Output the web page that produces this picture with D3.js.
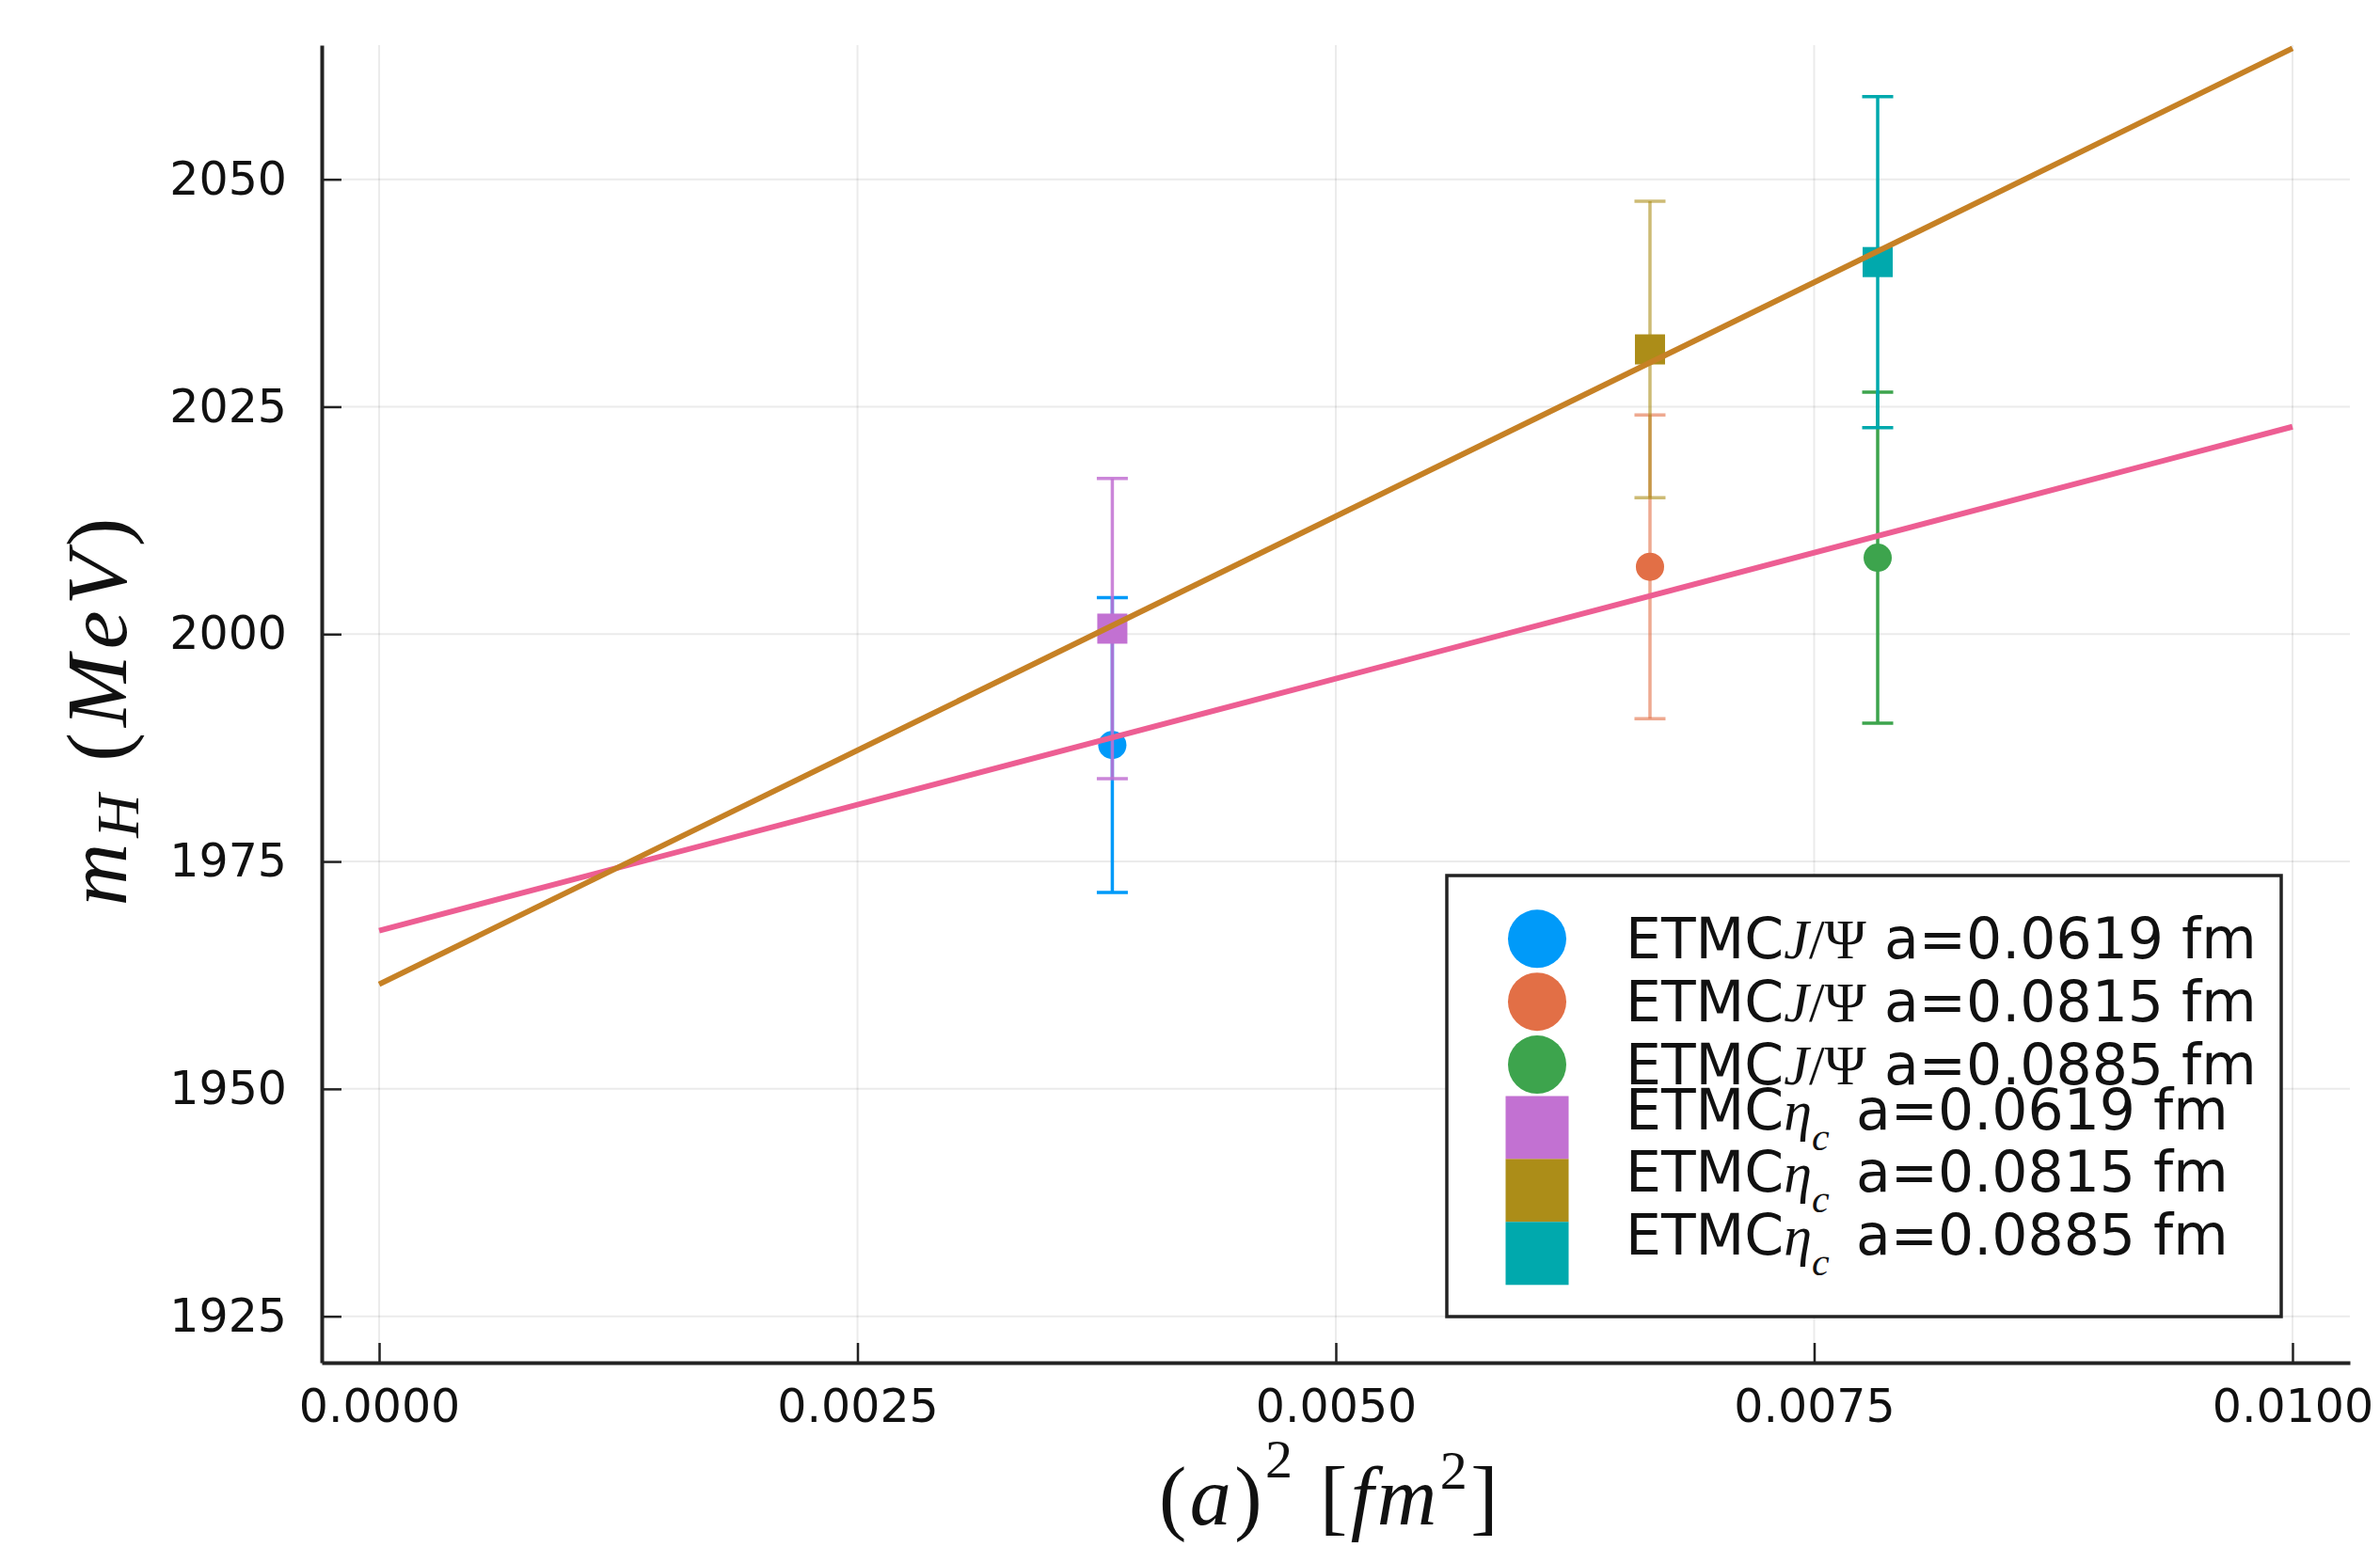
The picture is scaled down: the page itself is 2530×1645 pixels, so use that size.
<!DOCTYPE html>
<html><head><meta charset="utf-8">
<script src="https://cdn.jsdelivr.net/npm/d3@7"></script>
<style>body{margin:0;background:#fff}</style>
</head><body>
<svg id="chart" width="2530" height="1645" xmlns="http://www.w3.org/2000/svg"></svg>
<script>
// ---- data ----
const latticeSpacings = ["0.0619", "0.0815", "0.0885"];
const aSquared = [0.003832, 0.006642, 0.007832];
const jpsiMass = [1987.8, 2007.4, 2008.4];
const jpsiErr = [16.2, 16.7, 18.2];
const etacMass = [2000.6, 2031.3, 2040.9];
const etacErr = [16.5, 16.3, 18.2];
const fitX = [0, 0.01];
const fitJpsi = [1967.4, 2022.8];
const fitEtac = [1961.5, 2064.4];
const xTicks = [0, 0.0025, 0.005, 0.0075, 0.01];
const xTickLabels = ["0.0000", "0.0025", "0.0050", "0.0075", "0.0100"];
const yTicks = [1925, 1950, 1975, 2000, 2025, 2050];
const yTickLabels = ["1925", "1950", "1975", "2000", "2025", "2050"];
const jpsiColors = ["#009af9", "#e26f46", "#3da44d"];
const etacColors = ["#c271d2", "#ac8d18", "#00a9ad"];
const fitColors = ["#ed5e93", "#c68125"];
const errOpacity = [1, 0.6, 1, 0.85, 0.6, 1];

// ---- layout ----
const svg = d3.select("#chart");
svg.append("rect").attr("width", 2530).attr("height", 1645).attr("fill", "#fff");
const L = 342, R = 2498, T = 48, B = 1449;
const x = d3.scaleLinear().domain([-0.0003, 0.0103]).range([L, R]);
const y = d3.scaleLinear().domain([1919.9, 2064.75]).range([B, T]);
const SANS = "'DejaVu Sans', sans-serif";
const SERIF = "'Liberation Serif', 'DejaVu Serif', serif";

// grid
const grid = svg.append("g");
grid.selectAll(".gx").data(xTicks).enter().append("line")
  .attr("x1", d => x(d)).attr("x2", d => x(d)).attr("y1", T).attr("y2", B)
  .attr("stroke", "#000").attr("stroke-opacity", 0.08).attr("stroke-width", 2);
grid.selectAll(".gy").data(yTicks).enter().append("line")
  .attr("y1", d => y(d)).attr("y2", d => y(d)).attr("x1", L).attr("x2", R)
  .attr("stroke", "#000").attr("stroke-opacity", 0.08).attr("stroke-width", 2);

// axes
const xAxis = d3.axisBottom(x).tickValues(xTicks).tickFormat((d, i) => xTickLabels[i])
  .tickSizeInner(-21).tickSizeOuter(0).tickPadding(28);
const yAxis = d3.axisLeft(y).tickValues(yTicks).tickFormat((d, i) => yTickLabels[i])
  .tickSizeInner(-21).tickSizeOuter(0).tickPadding(37);
const gx = svg.append("g").attr("transform", `translate(0,${B})`).call(xAxis);
const gy = svg.append("g").attr("transform", `translate(${L},0)`).call(yAxis);
[gx, gy].forEach(g => {
  g.select(".domain").attr("stroke", "#222").attr("stroke-width", 4);
  g.selectAll(".tick line").attr("stroke", "#222").attr("stroke-width", 2.5);
  g.selectAll(".tick text").attr("fill", "#111").style("font-family", SANS).style("font-size", "49px");
});

// series (error bars + markers)
const series = [];
aSquared.forEach((a, i) => series.push({ x: a, m: jpsiMass[i], e: jpsiErr[i], c: jpsiColors[i], shape: "circle" }));
aSquared.forEach((a, i) => series.push({ x: a, m: etacMass[i], e: etacErr[i], c: etacColors[i], shape: "square" }));
const capW = 16.5;
series.forEach((s, k) => {
  const g = svg.append("g");
  const eg = g.append("g").attr("stroke", s.c).attr("stroke-width", 3.5).attr("stroke-opacity", errOpacity[k]);
  eg.append("line").attr("x1", x(s.x)).attr("x2", x(s.x)).attr("y1", y(s.m - s.e)).attr("y2", y(s.m + s.e));
  [s.m - s.e, s.m + s.e].forEach(v => eg.append("line")
    .attr("x1", x(s.x) - capW).attr("x2", x(s.x) + capW).attr("y1", y(v)).attr("y2", y(v)));
  if (s.shape === "circle") {
    g.append("circle").attr("cx", x(s.x)).attr("cy", y(s.m)).attr("r", 15).attr("fill", s.c);
  } else {
    g.append("rect").attr("x", x(s.x) - 16).attr("y", y(s.m) - 16).attr("width", 32).attr("height", 32).attr("fill", s.c);
  }
});

// fit lines
const line = d3.line().x(d => x(d[0])).y(d => y(d[1]));
[fitJpsi, fitEtac].forEach((f, i) => {
  svg.append("path").datum(fitX.map((fx, j) => [fx, f[j]])).attr("d", line)
    .attr("fill", "none").attr("stroke", fitColors[i]).attr("stroke-width", 6);
});

// axis labels
const xl = svg.append("text").attr("x", 1414).attr("y", 1621).attr("text-anchor", "middle")
  .style("font-family", SERIF).style("font-size", "88px").style("letter-spacing", "3.5px").attr("fill", "#111");
xl.append("tspan").text("(");
xl.append("tspan").style("font-style", "italic").text("a");
xl.append("tspan").text(")");
xl.append("tspan").style("font-size", "58px").attr("dy", -50).text("2");
xl.append("tspan").attr("dy", 50).text(" [");
xl.append("tspan").style("font-style", "italic").text("fm");
xl.append("tspan").style("font-size", "58px").attr("dy", -38).text("2");
xl.append("tspan").attr("dy", 38).text("]");

const yl = svg.append("text").attr("transform", "translate(134,754) rotate(-90)").attr("text-anchor", "middle")
  .style("font-family", SERIF).style("font-size", "92px").style("letter-spacing", "6px").attr("fill", "#111");
yl.append("tspan").style("font-style", "italic").text("m");
yl.append("tspan").style("font-style", "italic").style("font-size", "64px").attr("dy", 13).text("H");
yl.append("tspan").attr("dy", -13).text(" (");
yl.append("tspan").style("font-style", "italic").text("MeV");
yl.append("tspan").text(")");

// legend
const lg = svg.append("g");
lg.append("rect").attr("x", 1538).attr("y", 931).attr("width", 887).attr("height", 469)
  .attr("fill", "#fff").attr("stroke", "#222").attr("stroke-width", 3.5);
const rowH = 66.9, row0 = 998.3, symX = 1634, txtX = 1728;
latticeSpacings.forEach((a, i) => {
  const cy = row0 + i * rowH;
  lg.append("circle").attr("cx", symX).attr("cy", cy).attr("r", 31).attr("fill", jpsiColors[i]);
  const t = lg.append("text").attr("x", txtX).attr("y", cy + 21).attr("fill", "#111").style("font-size", "60px");
  t.append("tspan").style("font-family", SANS).text("ETMC");
  t.append("tspan").style("font-family", SERIF).style("font-style", "italic").text("J");
  t.append("tspan").style("font-family", SERIF).text("/Ψ");
  t.append("tspan").attr("x", 2003).style("font-family", SANS).text(`a=${a} fm`);
});
latticeSpacings.forEach((a, i) => {
  const cy = row0 + (i + 3) * rowH;
  lg.append("rect").attr("x", symX - 33.5).attr("y", cy - 33.5).attr("width", 67).attr("height", 67).attr("fill", etacColors[i]);
  const t = lg.append("text").attr("x", txtX).attr("y", cy + 1.5).attr("fill", "#111").style("font-size", "60px");
  t.append("tspan").style("font-family", SANS).text("ETMC");
  t.append("tspan").style("font-family", SERIF).style("font-style", "italic").text("η");
  t.append("tspan").style("font-family", SERIF).style("font-style", "italic").style("font-size", "42px").attr("dy", 22).text("c");
  t.append("tspan").attr("x", 1973).attr("dy", -22).style("font-family", SANS).text(`a=${a} fm`);
});
</script>
</body></html>
